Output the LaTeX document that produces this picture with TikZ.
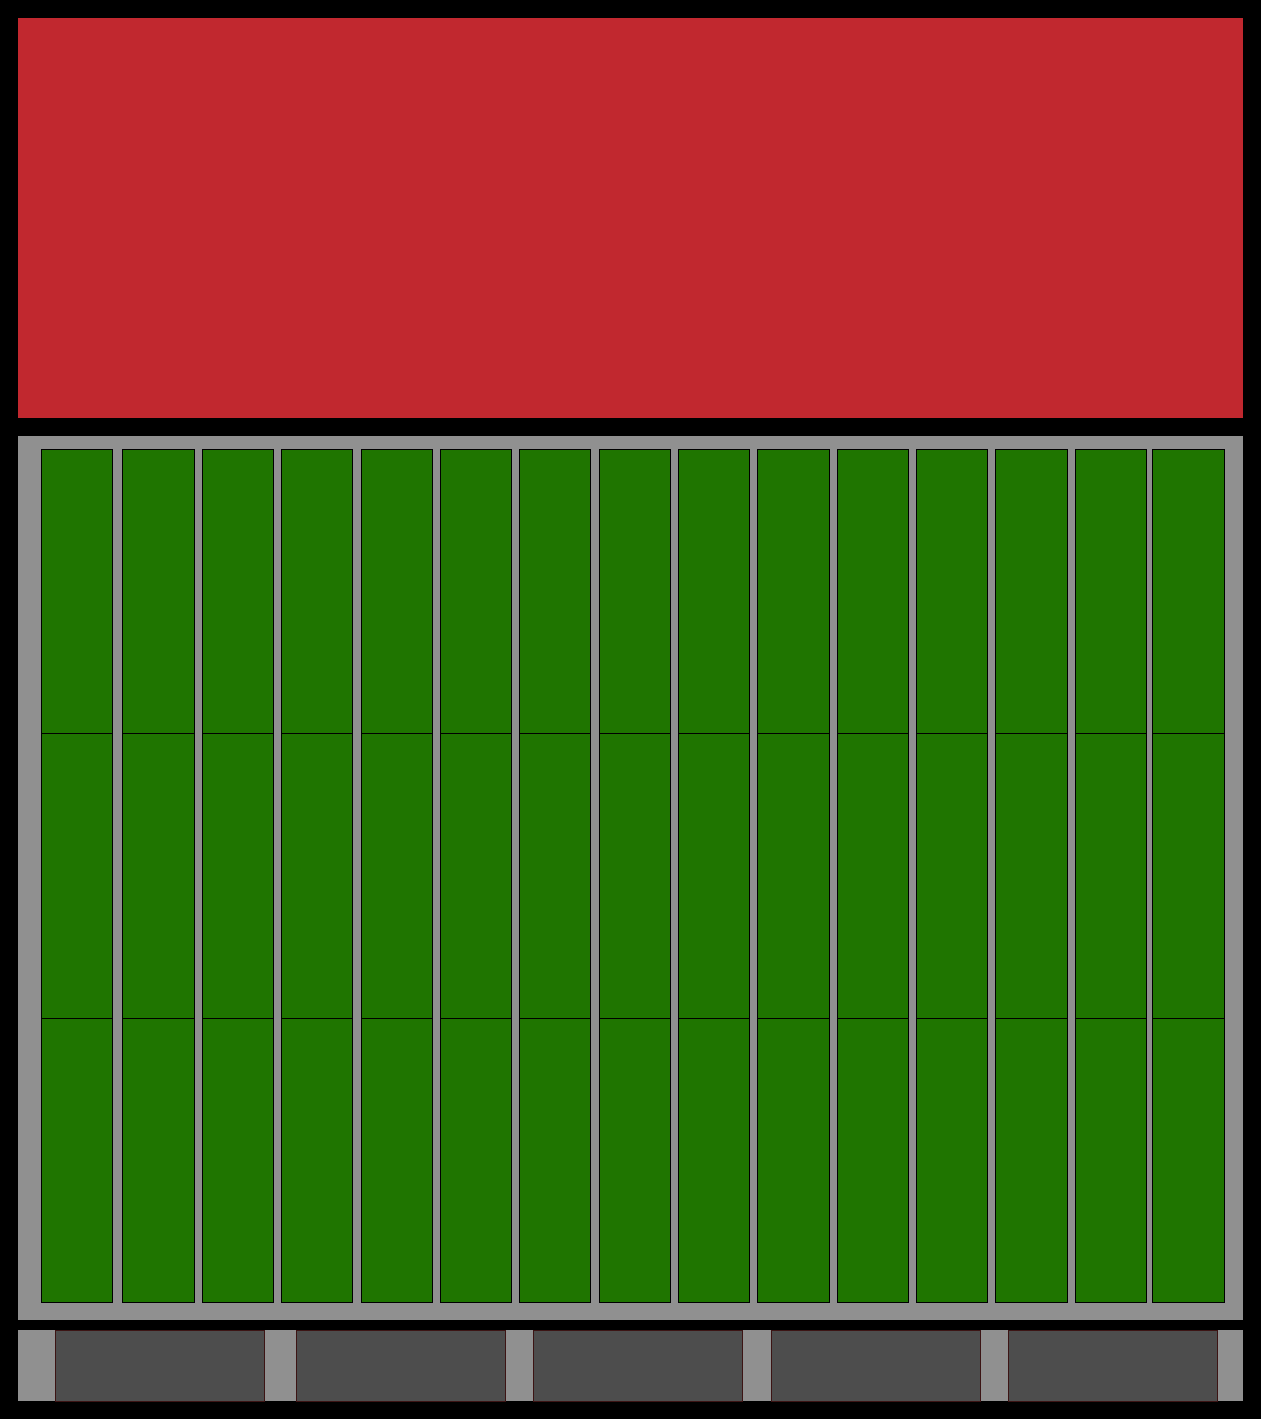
\documentclass[tikz,border=0pt]{standalone}
\usepackage{tikz}

\definecolor{tampa}{RGB}{193,40,47}
\definecolor{modulo}{RGB}{31,117,0}
\definecolor{chassi}{RGB}{144,144,144}
\definecolor{fonte}{RGB}{77,77,77}
\definecolor{bordafonte}{RGB}{60,20,20}

\begin{document}
\begin{tikzpicture}[
    x=0.02cm, y=-0.02cm,
    % Placas principais (tampa / chassi / trilho)
    placa/.style={
        anchor=north west,
        inner sep=0pt, outer sep=0pt,
        minimum width=24.5cm
    },
    % Células verdes do painel
    celula/.style={
        draw=black,
        line width=0.5pt,
        fill=modulo,
        anchor=north west,
        inner sep=0pt, outer sep=0pt,
        minimum width=1.43cm,
        minimum height=5.69cm
    },
    % Blocos escuros do trilho inferior
    bloco/.style={
        draw=bordafonte,
        line width=0.4pt,
        fill=fonte,
        anchor=north west,
        inner sep=0pt, outer sep=0pt,
        minimum width=4.18cm,
        minimum height=1.42cm
    }
]

% ---- MOLDURA ----
\useasboundingbox[fill=white] (0,0) rectangle (1262,1420);
\fill[black] (0,0) rectangle (1260.5,1418.5);

% ---- TAMPA SUPERIOR ----
\node[placa, fill=tampa, minimum height=8cm] (tampa) at (18,18) {};

% ---- CHASSI DO PAINEL ----
\node[placa, fill=chassi, minimum height=17.69cm] (chassi) at (18,436) {};

% ---- CÉLULAS (3 LINHAS x 15 COLUNAS) ----
\foreach \xc [count=\i] in {41,122.7,202.3,281,361,440,519,599,678,757.7,837,916,995.7,1075,1152.7} {
    \node[celula] (c1-\i) at (\xc,449)    {};
    \node[celula] (c2-\i) at (\xc,733.7)  {};
    \node[celula] (c3-\i) at (\xc,1018.3) {};
}

% ---- TRILHO INFERIOR ----
\node[placa, fill=chassi, minimum height=1.42cm] (trilho) at (18,1330) {};

\node[bloco] (b1) at (55,1330)   {};
\node[bloco] (b2) at (296,1330)  {};
\node[bloco] (b3) at (533,1330)  {};
\node[bloco] (b4) at (771,1330)  {};
\node[bloco] (b5) at (1008,1330) {};

\end{tikzpicture}
\end{document}
